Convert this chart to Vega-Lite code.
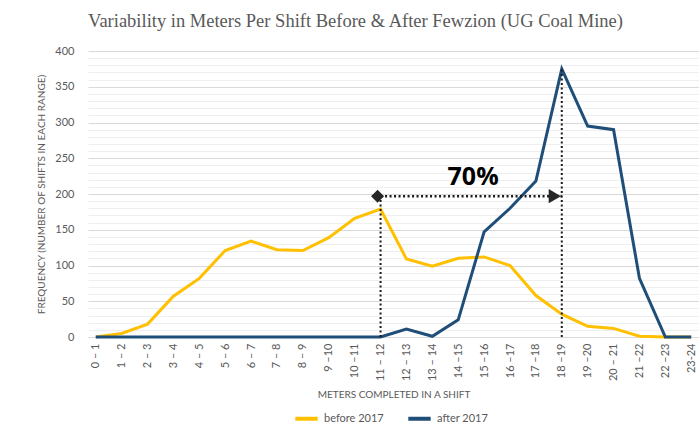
{
  "$schema": "https://vega.github.io/schema/vega-lite/v6.json",
  "width": 611,
  "height": 286,
  "autosize": {"type": "none"},
  "padding": {"left": 88, "top": 51, "right": 0, "bottom": 87},
  "background": "white",
  "title": {
    "text": "Variability in Meters Per Shift Before & After Fewzion (UG Coal Mine)",
    "font": "Liberation Serif",
    "fontSize": 18.5,
    "fontWeight": "normal",
    "color": "#595959",
    "anchor": "middle",
    "dx": -38,
    "offset": 15
  },
  "config": {
    "view": {"stroke": null},
    "axis": {"labelFont": "Lato", "titleFont": "Lato", "labelColor": "#595959", "titleColor": "#595959", "titleFontWeight": "normal"},
    "axisX": {"labelAngle": -90, "labelAlign": "right", "labelBaseline": "middle", "labelFontSize": 11, "labelPadding": 6, "ticks": false, "domainColor": "#d9d9d9", "titleFontSize": 10, "titlePadding": 9, "grid": false},
    "axisY": {"labelOverlap": false, "grid": true, "ticks": false, "domain": false, "labelFontSize": 11, "labelPadding": 14, "titleFontSize": 10, "titlePadding": 8, "gridColor": "#efefef"},
    "legend": {"labelFont": "Lato", "labelColor": "#595959"}
  },
  "datasets": {
    "lines": [
      {"range": "0 – 1", "series": "before 2017", "value": 0},
      {"range": "1 – 2", "series": "before 2017", "value": 5},
      {"range": "2 – 3", "series": "before 2017", "value": 18},
      {"range": "3 – 4", "series": "before 2017", "value": 57},
      {"range": "4 – 5", "series": "before 2017", "value": 82},
      {"range": "5 – 6", "series": "before 2017", "value": 121},
      {"range": "6 – 7", "series": "before 2017", "value": 134},
      {"range": "7 – 8", "series": "before 2017", "value": 122},
      {"range": "8 – 9", "series": "before 2017", "value": 121},
      {"range": "9 –10", "series": "before 2017", "value": 139},
      {"range": "10 –11", "series": "before 2017", "value": 166},
      {"range": "11 – 12", "series": "before 2017", "value": 179},
      {"range": "12 – 13", "series": "before 2017", "value": 109},
      {"range": "13 – 14", "series": "before 2017", "value": 99},
      {"range": "14 –15", "series": "before 2017", "value": 110},
      {"range": "15 –16", "series": "before 2017", "value": 112},
      {"range": "16 –17", "series": "before 2017", "value": 100},
      {"range": "17 –18", "series": "before 2017", "value": 58},
      {"range": "18 –19", "series": "before 2017", "value": 32},
      {"range": "19 –20", "series": "before 2017", "value": 15},
      {"range": "20 – 21", "series": "before 2017", "value": 12},
      {"range": "21 –22", "series": "before 2017", "value": 1},
      {"range": "22 –23", "series": "before 2017", "value": 0},
      {"range": "23-24", "series": "before 2017", "value": 0},
      {"range": "0 – 1", "series": "after 2017", "value": 0},
      {"range": "1 – 2", "series": "after 2017", "value": 0},
      {"range": "2 – 3", "series": "after 2017", "value": 0},
      {"range": "3 – 4", "series": "after 2017", "value": 0},
      {"range": "4 – 5", "series": "after 2017", "value": 0},
      {"range": "5 – 6", "series": "after 2017", "value": 0},
      {"range": "6 – 7", "series": "after 2017", "value": 0},
      {"range": "7 – 8", "series": "after 2017", "value": 0},
      {"range": "8 – 9", "series": "after 2017", "value": 0},
      {"range": "9 –10", "series": "after 2017", "value": 0},
      {"range": "10 –11", "series": "after 2017", "value": 0},
      {"range": "11 – 12", "series": "after 2017", "value": 0},
      {"range": "12 – 13", "series": "after 2017", "value": 11},
      {"range": "13 – 14", "series": "after 2017", "value": 1},
      {"range": "14 –15", "series": "after 2017", "value": 24},
      {"range": "15 –16", "series": "after 2017", "value": 147},
      {"range": "16 –17", "series": "after 2017", "value": 180},
      {"range": "17 –18", "series": "after 2017", "value": 218},
      {"range": "18 –19", "series": "after 2017", "value": 375},
      {"range": "19 –20", "series": "after 2017", "value": 295},
      {"range": "20 – 21", "series": "after 2017", "value": 290},
      {"range": "21 –22", "series": "after 2017", "value": 82},
      {"range": "22 –23", "series": "after 2017", "value": 0},
      {"range": "23-24", "series": "after 2017", "value": 0}
    ],
    "vrules": [
      {"range": "11 – 12", "value": 0, "top": 197},
      {"range": "18 –19", "value": 0, "top": 375}
    ],
    "hrule": [
      {"range": "11 – 12", "to": "18 –19", "value": 197}
    ],
    "diamond": [{"range": "11 – 12", "value": 197}],
    "arrow": [{"range": "18 –19", "value": 197}],
    "label": [{"range": "15 –16", "value": 224, "text": "70%"}]
  },
  "layer": [
    {
      "data": {"name": "lines"},
      "mark": {"type": "line", "strokeWidth": 3, "strokeJoin": "miter"},
      "encoding": {
        "x": {
          "field": "range",
          "type": "ordinal",
          "scale": {"type": "point", "padding": 0.3, "domain": ["0 – 1","1 – 2","2 – 3","3 – 4","4 – 5","5 – 6","6 – 7","7 – 8","8 – 9","9 –10","10 –11","11 – 12","12 – 13","13 – 14","14 –15","15 –16","16 –17","17 –18","18 –19","19 –20","20 – 21","21 –22","22 –23","23-24"]},
          "title": "METERS COMPLETED IN A SHIFT"
        },
        "y": {
          "field": "value",
          "type": "quantitative",
          "scale": {"domain": [0, 400]},
          "title": "FREQUENCY (NUMBER OF SHIFTS IN EACH RANGE)",
          "axis": {
            "values": [0,10,20,30,40,50,60,70,80,90,100,110,120,130,140,150,160,170,180,190,200,210,220,230,240,250,260,270,280,290,300,310,320,330,340,350,360,370,380,390,400],
            "labelExpr": "datum.value % 50 === 0 ? datum.label : ''",
            "labelOverlap": false,
            "gridColor": {"condition": {"test": "datum.value % 50 === 0", "value": "#d9d9d9"}, "value": "#efefef"}
          }
        },
        "color": {
          "field": "series",
          "type": "nominal",
          "scale": {"domain": ["before 2017", "after 2017"], "range": ["#FFC000", "#1F4E79"]},
          "legend": {
            "title": null,
            "orient": "none",
            "legendX": 205,
            "legendY": 354,
            "direction": "horizontal",
            "symbolType": "stroke",
            "symbolStrokeWidth": 4,
            "symbolSize": 500,
            "labelFontSize": 11,
            "columnPadding": 16
          }
        }
      }
    },
    {
      "data": {"name": "vrules"},
      "mark": {"type": "rule", "color": "#1a1a1a", "strokeWidth": 2, "strokeDash": [2, 2.5]},
      "encoding": {
        "x": {"field": "range", "type": "ordinal"},
        "y": {"field": "value", "type": "quantitative", "axis": {"values": [0,10,20,30,40,50,60,70,80,90,100,110,120,130,140,150,160,170,180,190,200,210,220,230,240,250,260,270,280,290,300,310,320,330,340,350,360,370,380,390,400], "labelExpr": "datum.value % 50 === 0 ? datum.label : ''", "labelOverlap": false, "gridColor": {"condition": {"test": "datum.value % 50 === 0", "value": "#d9d9d9"}, "value": "#efefef"}}},
        "y2": {"field": "top"}
      }
    },
    {
      "data": {"name": "hrule"},
      "mark": {"type": "rule", "color": "#1a1a1a", "strokeWidth": 2.5, "strokeDash": [2, 2.5]},
      "encoding": {
        "x": {"field": "range", "type": "ordinal"},
        "x2": {"field": "to"},
        "y": {"field": "value", "type": "quantitative", "axis": {"values": [0,10,20,30,40,50,60,70,80,90,100,110,120,130,140,150,160,170,180,190,200,210,220,230,240,250,260,270,280,290,300,310,320,330,340,350,360,370,380,390,400], "labelExpr": "datum.value % 50 === 0 ? datum.label : ''", "labelOverlap": false, "gridColor": {"condition": {"test": "datum.value % 50 === 0", "value": "#d9d9d9"}, "value": "#efefef"}}}
      }
    },
    {
      "data": {"name": "diamond"},
      "mark": {"type": "point", "shape": "diamond", "filled": true, "color": "#262626", "size": 170, "opacity": 1, "xOffset": -3},
      "encoding": {
        "x": {"field": "range", "type": "ordinal"},
        "y": {"field": "value", "type": "quantitative", "axis": {"values": [0,10,20,30,40,50,60,70,80,90,100,110,120,130,140,150,160,170,180,190,200,210,220,230,240,250,260,270,280,290,300,310,320,330,340,350,360,370,380,390,400], "labelExpr": "datum.value % 50 === 0 ? datum.label : ''", "labelOverlap": false, "gridColor": {"condition": {"test": "datum.value % 50 === 0", "value": "#d9d9d9"}, "value": "#efefef"}}}
      }
    },
    {
      "data": {"name": "arrow"},
      "mark": {"type": "point", "shape": "triangle-right", "filled": true, "color": "#262626", "size": 200, "opacity": 1, "xOffset": -7},
      "encoding": {
        "x": {"field": "range", "type": "ordinal"},
        "y": {"field": "value", "type": "quantitative", "axis": {"values": [0,10,20,30,40,50,60,70,80,90,100,110,120,130,140,150,160,170,180,190,200,210,220,230,240,250,260,270,280,290,300,310,320,330,340,350,360,370,380,390,400], "labelExpr": "datum.value % 50 === 0 ? datum.label : ''", "labelOverlap": false, "gridColor": {"condition": {"test": "datum.value % 50 === 0", "value": "#d9d9d9"}, "value": "#efefef"}}}
      }
    },
    {
      "data": {"name": "label"},
      "mark": {"type": "text", "font": "Open Sans", "fontWeight": "bold", "fontSize": 25, "color": "#000000", "dx": -11},
      "encoding": {
        "x": {"field": "range", "type": "ordinal"},
        "y": {"field": "value", "type": "quantitative", "axis": {"values": [0,10,20,30,40,50,60,70,80,90,100,110,120,130,140,150,160,170,180,190,200,210,220,230,240,250,260,270,280,290,300,310,320,330,340,350,360,370,380,390,400], "labelExpr": "datum.value % 50 === 0 ? datum.label : ''", "labelOverlap": false, "gridColor": {"condition": {"test": "datum.value % 50 === 0", "value": "#d9d9d9"}, "value": "#efefef"}}},
        "text": {"field": "text"}
      }
    }
  ]
}
